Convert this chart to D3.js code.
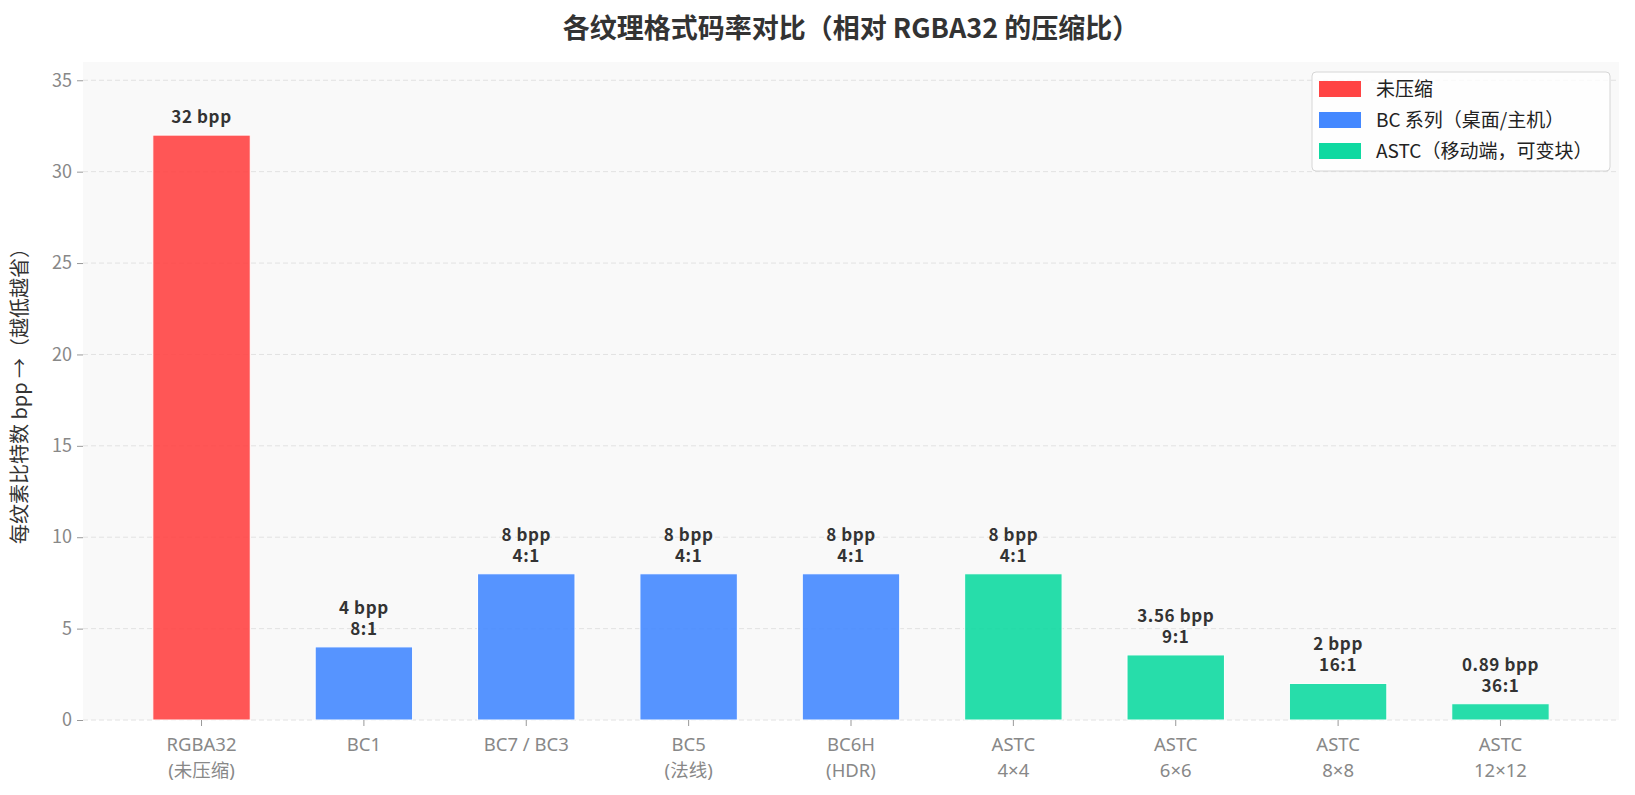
<!DOCTYPE html>
<html lang="zh">
<head>
<meta charset="UTF-8">
<title>各纹理格式码率对比</title>
<script src="https://d3js.org/d3.v7.min.js"></script>
<style>
  body { margin: 0; background: #fff; }
  text { font-family: "Noto Sans CJK SC", "Noto Sans", sans-serif; }
</style>
</head>
<body>
<script>
  // data
  const categories = ["RGBA32\n(未压缩)", "BC1", "BC7 / BC3", "BC5\n(法线)", "BC6H\n(HDR)",
                      "ASTC\n4×4", "ASTC\n6×6", "ASTC\n8×8", "ASTC\n12×12"]
  const bpp = [32, 4, 8, 8, 8, 8, 3.56, 2, 0.89]
  const ratios = ["", "8:1", "4:1", "4:1", "4:1", "4:1", "9:1", "16:1", "36:1"]
  const groupOf = [0, 1, 1, 1, 1, 2, 2, 2, 2]
  const groupNames = ["未压缩", "BC 系列（桌面/主机）", "ASTC（移动端，可变块）"]
  const groupColors = ["#FF4444", "#4488FF", "#0FD9A1"]
  const yTicks = [0, 5, 10, 15, 20, 25, 30, 35]

  const W = 1635, H = 795
  const margin = {top: 62, right: 16, bottom: 75, left: 83}

  const svg = d3.select("body").append("svg")
      .attr("width", W)
      .attr("height", H)

  const x = d3.scaleBand()
      .domain(categories)
      .range([margin.left, W - margin.right])
      .paddingInner(0.4)
      .paddingOuter(0.43)

  const y = d3.scaleLinear()
      .domain([0, 36])
      .range([H - margin.bottom, margin.top])

  // plot background
  svg.append("rect")
      .attr("x", margin.left).attr("y", margin.top)
      .attr("width", W - margin.left - margin.right)
      .attr("height", H - margin.top - margin.bottom)
      .attr("fill", "#f9f9f9")

  // grid
  svg.append("g").selectAll("line")
    .data(yTicks)
    .enter().append("line")
      .attr("x1", margin.left).attr("x2", W - margin.right)
      .attr("y1", d => y(d)).attr("y2", d => y(d))
      .attr("stroke", "#e2e2e2")
      .attr("stroke-dasharray", "5,3")

  // bars
  svg.append("g").selectAll("rect")
    .data(bpp)
    .enter().append("rect")
      .attr("x", (d, i) => x(categories[i]))
      .attr("y", d => y(d))
      .attr("width", x.bandwidth())
      .attr("height", d => y(0) - y(d))
      .attr("fill", (d, i) => groupColors[groupOf[i]])
      .attr("fill-opacity", 0.9)
      .attr("stroke", "#fff")
      .attr("stroke-width", 1)

  // value labels
  const labels = svg.append("g").selectAll("text")
    .data(bpp)
    .enter().append("text")
      .attr("text-anchor", "middle")
      .attr("font-size", 17)
      .attr("font-weight", "bold")
      .attr("letter-spacing", 0.6)
      .attr("fill", "#333")
  labels.each(function(d, i) {
    const lines = [d + " bpp"]
    if (ratios[i]) lines.push(ratios[i])
    const cx = x(categories[i]) + x.bandwidth() / 2
    const base = y(d) - 12
    d3.select(this).selectAll("tspan")
      .data(lines)
      .enter().append("tspan")
        .attr("x", cx)
        .attr("y", (t, k) => base - (lines.length - 1 - k) * 21)
        .text(t => t)
  })

  // y axis
  const yAxis = svg.append("g")
      .attr("transform", "translate(" + margin.left + ",0)")
      .call(d3.axisLeft(y).tickValues(yTicks).tickSize(6).tickPadding(5))
  yAxis.select(".domain").remove()
  yAxis.selectAll(".tick line").attr("stroke", "#999")
  yAxis.selectAll(".tick text")
      .attr("font-size", 18)
      .attr("fill", "#888")
      .style("font-family", "'Noto Sans CJK SC', sans-serif")

  // x axis
  const xAxis = svg.append("g")
      .attr("transform", "translate(0," + (H - margin.bottom) + ")")
      .call(d3.axisBottom(x).tickSize(6).tickPadding(12))
  xAxis.select(".domain").remove()
  xAxis.selectAll(".tick line").attr("stroke", "#999")
  xAxis.selectAll(".tick text").each(function(d) {
    const t = d3.select(this).text("")
    t.attr("font-size", 18.5).attr("fill", "#888")
     .style("font-family", "'Noto Sans', 'Noto Sans CJK SC', sans-serif")
    d.split("\n").forEach((line, k) => {
      t.append("tspan").attr("x", 0).attr("dy", k === 0 ? "0.71em" : "1.4em").text(line)
    })
  })

  // y label
  svg.append("text")
      .attr("transform", "translate(27," + ((margin.top + H - margin.bottom) / 2) + ") rotate(-90)")
      .attr("text-anchor", "middle")
      .attr("font-size", 20)
      .attr("fill", "#333")
      .text("每纹素比特数 bpp →（越低越省）")

  // title
  svg.append("text")
      .attr("x", (margin.left + W - margin.right) / 2)
      .attr("y", 38)
      .attr("text-anchor", "middle")
      .attr("font-size", 27)
      .attr("font-weight", "bold")
      .attr("fill", "#333")
      .text("各纹理格式码率对比（相对 RGBA32 的压缩比）")

  // legend
  const legend = svg.append("g")
  legend.append("rect")
      .attr("x", 1312).attr("y", 72)
      .attr("width", 298).attr("height", 99)
      .attr("rx", 4)
      .attr("fill", "#fff").attr("fill-opacity", 0.8)
      .attr("stroke", "#d6d6d6")
  const items = legend.selectAll(".item")
    .data(groupNames)
    .enter().append("g")
      .attr("class", "item")
      .attr("transform", (d, i) => "translate(1319," + (89 + i * 31) + ")")
  items.append("rect")
      .attr("x", 0).attr("y", -8)
      .attr("width", 42).attr("height", 16)
      .attr("fill", (d, i) => groupColors[i])
  items.append("text")
      .attr("x", 57).attr("dy", "0.35em")
      .attr("font-size", 19)
      .attr("fill", "#222")
      .text(d => d)
</script>
</body>
</html>
